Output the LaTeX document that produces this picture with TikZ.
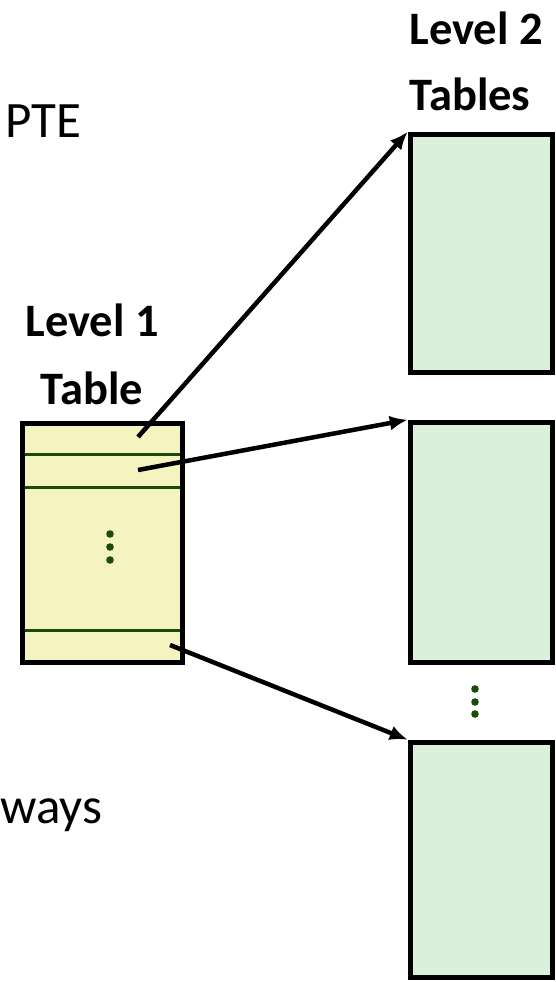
\documentclass[tikz,border=0pt]{standalone}
\usepackage{fontspec}
\setmainfont{Carlito}
\usetikzlibrary{arrows.meta}
\definecolor{lvlyellow}{HTML}{F5F3C0}
\definecolor{lvlgreen}{HTML}{DAF0DA}
\definecolor{rowgreen}{HTML}{1B4A0C}
\begin{document}
\begin{tikzpicture}[x=1pt,y=-1pt]

      \useasboundingbox (0,0) rectangle (555,982);

      \begin{scope}[every node/.style={draw,line width=5.5pt,inner sep=0,minimum width=142}]
        \node[fill=lvlyellow,minimum width=160,minimum height=239] (l1) at (102.5,543) {};
        \node[fill=lvlgreen,minimum height=238] (t1) at (481.5,253.5) {};
        \node[fill=lvlgreen,minimum height=240] (t2) at (481.5,542.5) {};
        \node[fill=lvlgreen,minimum height=235] (t3) at (481.5,860) {};
      \end{scope}

      \begin{scope}[rowgreen]
        \draw[line width=3pt] (25,454) -- (180,454);
        \draw[line width=3pt] (25,487) -- (180,487);
        \draw[line width=3pt] (25,630) -- (180,630);
        \foreach \y in {534,547,560} \fill (110,\y) circle (3.8);
        \foreach \y in {689,702,714} \fill (475,\y) circle (3.8);
      \end{scope}

      \begin{scope}[every node/.style={inner sep=0,font=\fontsize{51}{60}\selectfont}]
        \node[anchor=base west] (pte)  at (5,137)  {PTE};
        \node[anchor=base west] (ways) at (0,823)  {ways};
      \end{scope}

      \begin{scope}[every node/.style={inner sep=0,anchor=base,font=\fontsize{46.5}{56}\selectfont\bfseries}]
        \node (lev1) at (92,336)  {Level 1};
        \node (tab1) at (92,404)  {Table};
        \node (lev2) at (476,45)  {Level 2};
        \node (tab2) at (470,110) {Tables};
      \end{scope}

      \coordinate (s1) at (138,437);
      \coordinate (s2) at (138,470);
      \coordinate (s3) at (170,645);

      \begin{scope}[every edge/.style={draw,line width=4.5pt,-{Latex[length=18pt,width=15pt]}}]
        \path (s1) edge (t1.north west);
        \path (s2) edge (t2.north west);
        \path (s3) edge (t3.north west);
      \end{scope}

    \end{tikzpicture}
\end{document}
